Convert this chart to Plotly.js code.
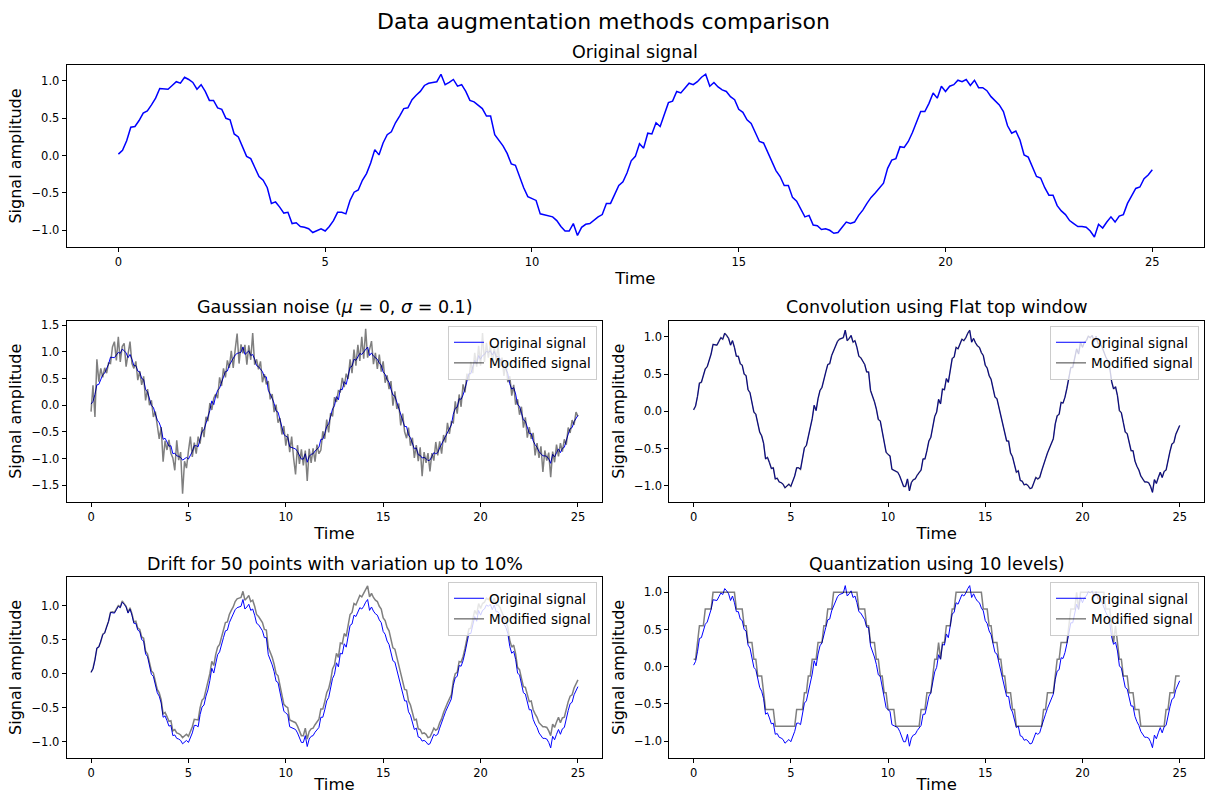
<!DOCTYPE html>
<html>
<head>
<meta charset="utf-8">
<script src="https://cdn.plot.ly/plotly-3.0.1.min.js"></script>
<style>html,body{margin:0;padding:0;background:#fff;}#chart{width:1206px;height:794px;}</style>
</head>
<body>
<div id="chart"></div>
<script>
// Sampling grid of the signal (time axis start and step)
const timeStart = 0;
const timeStep = 0.1;

// Original signal
const original = [
0.02,0.07,0.20,0.38,0.39,0.47,0.57,0.60,0.68,0.77,
0.90,0.90,0.89,0.94,0.99,0.97,1.05,1.02,0.98,0.89,
0.95,0.86,0.74,0.74,0.64,0.62,0.50,0.48,0.29,0.25,
0.12,-0.01,-0.04,-0.16,-0.28,-0.33,-0.43,-0.64,-0.62,-0.69,
-0.77,-0.76,-0.91,-0.90,-0.95,-0.96,-0.98,-1.03,-1.00,-0.98,
-1.01,-0.95,-0.87,-0.76,-0.76,-0.78,-0.60,-0.49,-0.46,-0.33,
-0.24,-0.10,0.08,0.01,0.17,0.28,0.32,0.44,0.53,0.63,
0.64,0.75,0.81,0.86,0.94,0.97,0.98,0.99,1.09,0.95,
0.98,1.02,0.93,0.95,0.86,0.74,0.72,0.68,0.63,0.53,
0.53,0.28,0.21,0.13,0.03,-0.11,-0.13,-0.29,-0.43,-0.55,
-0.58,-0.60,-0.78,-0.79,-0.80,-0.82,-0.87,-0.95,-1.01,-1.01,
-0.91,-1.07,-0.96,-0.92,-0.91,-0.86,-0.82,-0.79,-0.64,-0.64,
-0.53,-0.40,-0.35,-0.23,-0.07,-0.01,0.16,0.10,0.30,0.29,
0.44,0.39,0.55,0.71,0.73,0.86,0.84,0.91,0.97,0.95,
0.99,1.05,1.09,0.93,0.98,0.92,0.88,0.86,0.79,0.75,
0.62,0.58,0.48,0.43,0.30,0.19,0.17,0.05,-0.07,-0.20,
-0.28,-0.40,-0.40,-0.56,-0.61,-0.71,-0.82,-0.80,-0.93,-0.94,
-0.99,-0.98,-1.00,-1.04,-1.03,-0.96,-0.89,-0.91,-0.89,-0.80,
-0.73,-0.64,-0.56,-0.50,-0.44,-0.37,-0.17,-0.06,-0.04,0.12,
0.11,0.19,0.31,0.44,0.59,0.59,0.70,0.84,0.77,0.93,
0.86,0.93,0.95,1.01,0.99,1.02,0.94,1.01,0.91,0.91,
0.87,0.79,0.73,0.68,0.59,0.40,0.30,0.33,0.21,0.01,
-0.02,-0.15,-0.28,-0.30,-0.43,-0.53,-0.53,-0.67,-0.74,-0.79,
-0.87,-0.91,-0.95,-0.95,-0.96,-1.01,-1.09,-0.92,-0.97,-0.89,
-0.82,-0.89,-0.81,-0.79,-0.64,-0.54,-0.44,-0.42,-0.31,-0.26,
-0.19];

// Signal with Gaussian noise
const gaussianNoise = [
-0.12,0.37,-0.22,0.86,0.44,0.69,0.52,0.70,0.60,0.79,
0.78,1.09,1.19,0.84,1.28,0.81,1.10,1.16,0.72,0.92,
1.19,0.78,0.69,0.82,0.47,0.64,0.38,0.54,0.09,0.30,
0.00,0.09,-0.22,-0.12,-0.43,-0.63,-0.41,-1.06,-0.67,-0.84,
-0.65,-0.90,-0.99,-1.22,-0.66,-1.03,-0.88,-1.66,-1.05,-1.18,
-0.86,-0.59,-0.97,-0.70,-0.91,-0.59,-0.72,-0.41,-0.60,-0.22,
-0.30,0.04,-0.09,0.13,0.21,0.13,0.52,0.36,0.69,0.52,
0.84,0.70,1.02,0.70,1.04,1.34,0.78,1.14,0.97,1.13,
0.76,1.12,0.85,1.35,0.76,0.86,0.67,0.82,0.43,0.58,
0.39,0.45,0.11,0.21,-0.13,0.01,-0.33,-0.24,-0.55,-0.39,
-0.76,-0.54,-0.88,-0.59,-0.99,-1.30,-0.75,-1.10,-0.83,-1.13,
-0.85,-1.42,-0.82,-1.08,-0.81,-1.06,-0.74,-0.91,-0.84,-0.49,
-0.63,-0.27,-0.51,-0.15,-0.21,0.15,0.06,0.27,0.25,0.51,
0.34,0.59,0.49,0.86,0.60,1.04,0.74,1.13,0.83,1.28,
0.87,1.43,0.89,1.07,1.20,0.77,0.98,0.68,0.95,0.63,
0.82,0.42,0.56,0.30,0.45,-0.01,0.26,-0.07,0.03,-0.38,
-0.16,-0.50,-0.62,-0.42,-0.76,-0.61,-0.99,-0.75,-1.05,-0.79,
-1.33,-0.88,-1.08,-0.90,-1.24,-0.90,-1.04,-0.69,-0.94,-0.68,
-0.91,-0.56,-0.70,-0.33,-0.54,-0.31,-0.33,0.07,-0.16,0.20,
-0.03,0.39,0.24,0.59,0.47,0.81,0.60,0.98,0.72,1.11,
0.74,1.35,0.81,1.17,0.89,1.14,0.76,1.09,0.85,1.11,
0.72,0.89,0.55,0.80,0.43,0.54,0.18,0.38,0.01,0.11,
-0.18,-0.03,-0.42,-0.23,-0.61,-0.41,-0.63,-0.52,-0.94,-0.71,
-0.99,-0.77,-1.25,-0.85,-1.04,-0.89,-1.35,-0.87,-1.07,-0.74,
-0.96,-0.71,-0.87,-0.64,-0.74,-0.42,-0.52,-0.28,-0.37,-0.13,
-0.21];

// Convolved signal (Flat top window): visually identical to the original
const convolved = original;

// Signal with drift
const drifted = [
0.02,0.08,0.21,0.37,0.40,0.47,0.58,0.60,0.69,0.77,
0.90,0.91,0.90,0.95,1.00,0.98,1.07,1.03,0.99,0.90,
0.97,0.88,0.76,0.77,0.67,0.65,0.54,0.52,0.33,0.29,
0.17,0.04,0.01,-0.11,-0.23,-0.28,-0.38,-0.59,-0.57,-0.63,
-0.70,-0.69,-0.84,-0.82,-0.87,-0.88,-0.90,-0.94,-0.91,-0.89,
-0.92,-0.86,-0.78,-0.67,-0.67,-0.68,-0.50,-0.39,-0.36,-0.23,
-0.14,0.00,0.18,0.12,0.28,0.39,0.43,0.55,0.65,0.75,
0.76,0.87,0.93,0.98,1.06,1.10,1.11,1.12,1.21,1.08,
1.11,1.15,1.06,1.08,0.99,0.87,0.84,0.80,0.75,0.65,
0.64,0.39,0.32,0.24,0.14,0.00,-0.03,-0.19,-0.33,-0.45,
-0.48,-0.50,-0.68,-0.69,-0.70,-0.72,-0.77,-0.85,-0.91,-0.91,
-0.80,-0.96,-0.85,-0.81,-0.80,-0.75,-0.70,-0.67,-0.52,-0.52,
-0.41,-0.28,-0.22,-0.10,0.07,0.13,0.30,0.24,0.45,0.44,
0.59,0.55,0.71,0.87,0.90,1.03,1.01,1.09,1.15,1.13,
1.18,1.24,1.29,1.13,1.18,1.12,1.08,1.06,0.99,0.95,
0.82,0.78,0.68,0.63,0.49,0.38,0.36,0.24,0.12,-0.02,
-0.11,-0.23,-0.24,-0.40,-0.46,-0.57,-0.68,-0.67,-0.81,-0.82,
-0.88,-0.87,-0.89,-0.94,-0.93,-0.87,-0.80,-0.83,-0.81,-0.72,
-0.66,-0.57,-0.49,-0.43,-0.37,-0.31,-0.11,0.00,0.02,0.18,
0.17,0.25,0.37,0.51,0.66,0.67,0.79,0.93,0.87,1.03,
0.96,1.03,1.05,1.11,1.09,1.12,1.04,1.11,1.01,1.01,
0.97,0.89,0.83,0.77,0.68,0.49,0.39,0.42,0.29,0.09,
0.06,-0.07,-0.19,-0.20,-0.32,-0.41,-0.40,-0.53,-0.59,-0.64,
-0.72,-0.75,-0.78,-0.78,-0.79,-0.84,-0.91,-0.74,-0.79,-0.71,
-0.64,-0.72,-0.65,-0.64,-0.50,-0.41,-0.33,-0.31,-0.21,-0.16,
-0.09];

// Quantized signal, 10 levels
const quantized = [
0.1,0.1,0.325,0.55,0.55,0.55,0.775,0.775,0.775,0.775,
1,1,1,1,1,1,1,1,1,1,
1,1,0.775,0.775,0.775,0.775,0.55,0.55,0.325,0.325,
0.325,0.1,0.1,-0.125,-0.125,-0.125,-0.35,-0.575,-0.575,-0.575,
-0.575,-0.575,-0.8,-0.8,-0.8,-0.8,-0.8,-0.8,-0.8,-0.8,
-0.8,-0.8,-0.8,-0.575,-0.575,-0.575,-0.575,-0.35,-0.35,-0.125,
-0.125,0.1,0.1,0.1,0.325,0.325,0.325,0.55,0.55,0.775,
0.775,0.775,1,1,1,1,1,1,1,1,
1,1,1,1,1,0.775,0.775,0.775,0.775,0.55,
0.55,0.325,0.325,0.325,0.1,0.1,-0.125,-0.125,-0.35,-0.35,
-0.575,-0.575,-0.575,-0.575,-0.8,-0.8,-0.8,-0.8,-0.8,-0.8,
-0.8,-0.8,-0.8,-0.8,-0.8,-0.8,-0.8,-0.575,-0.575,-0.575,
-0.35,-0.35,-0.35,-0.125,0.1,0.1,0.325,0.1,0.325,0.325,
0.55,0.55,0.55,0.775,0.775,1,1,1,1,1,
1,1,1,1,1,1,1,1,1,0.775,
0.775,0.775,0.55,0.55,0.325,0.325,0.325,0.1,0.1,-0.125,
-0.125,-0.35,-0.35,-0.35,-0.575,-0.575,-0.8,-0.8,-0.8,-0.8,
-0.8,-0.8,-0.8,-0.8,-0.8,-0.8,-0.8,-0.8,-0.8,-0.8,
-0.575,-0.575,-0.35,-0.35,-0.35,-0.35,-0.125,0.1,0.1,0.325,
0.325,0.325,0.325,0.55,0.775,0.775,0.775,1,0.775,1,
1,1,1,1,1,1,1,1,1,1,
1,1,0.775,0.775,0.775,0.55,0.325,0.55,0.325,0.1,
0.1,-0.125,-0.125,-0.125,-0.35,-0.35,-0.35,-0.575,-0.575,-0.575,
-0.8,-0.8,-0.8,-0.8,-0.8,-0.8,-0.8,-0.8,-0.8,-0.8,
-0.8,-0.8,-0.8,-0.575,-0.575,-0.35,-0.35,-0.35,-0.125,-0.125,
-0.125];

// Tick labels
const xTickVals = [0, 5, 10, 15, 20, 25];
const xTickText = ['0', '5', '10', '15', '20', '25'];
const yTickVals = [-1, -0.5, 0, 0.5, 1];
const yTickText = ['\u22121.0', '\u22120.5', '0.0', '0.5', '1.0'];
const yTickValsWide = [-1.5, -1, -0.5, 0, 0.5, 1, 1.5];
const yTickTextWide = ['\u22121.5', '\u22121.0', '\u22120.5', '0.0', '0.5', '1.0', '1.5'];

// Text
const mainTitle = 'Data augmentation methods comparison';
const panelTitles = [
  'Original signal',
  'Gaussian noise (<i>μ</i> = 0, <i>σ</i> = 0.1)',
  'Convolution using Flat top window',
  'Drift for 50 points with variation up to 10%',
  'Quantization using 10 levels)'
];
const seriesNames = ['Original signal', 'Modified signal'];
const xTitle = 'Time';
const yTitle = 'Signal amplitude';

const FONT = 'DejaVu Sans, Verdana, sans-serif';
const BLUE = '#0000ff';
const GREY = 'rgba(0,0,0,0.5)';
const W = 1206, H = 794;

function px(x) { return x / W; }
function py(y) { return 1 - y / H; }

function xAxis(domain, anchor) {
  return {
    domain: domain, anchor: anchor, range: [-1.25, 26.25],
    tickmode: 'array', tickvals: xTickVals, ticktext: xTickText,
    ticks: 'outside', ticklen: 4, tickwidth: 1, tickcolor: '#000',
    showline: true, mirror: true, linecolor: '#000', linewidth: 1,
    showgrid: false, zeroline: false,
    tickfont: {family: FONT, size: 11.5, color: '#000'},
    title: {text: xTitle, font: {family: FONT, size: 16.5, color: '#000'}, standoff: 4}
  };
}
function yAxis(domain, anchor, range, vals, text) {
  return {
    domain: domain, anchor: anchor, range: range,
    tickmode: 'array', tickvals: vals, ticktext: text,
    ticks: 'outside', ticklen: 4, tickwidth: 1, tickcolor: '#000',
    showline: true, mirror: true, linecolor: '#000', linewidth: 1,
    showgrid: false, zeroline: false,
    tickfont: {family: FONT, size: 11.5, color: '#000'},
    title: {text: yTitle, font: {family: FONT, size: 16, color: '#000'}, standoff: 5}
  };
}

const xLeft = [px(66.7), px(602.3)];
const xRight = [px(669.3), px(1204)];
const xFull = [px(66.7), px(1204)];
const yTop = [py(246.7), py(65.3)];
const yMid = [py(502), py(320.6)];
const yBot = [py(758.1), py(576.7)];

function origTrace(xa, ya, legend, width, showleg) {
  return {type: 'scatter', mode: 'lines', y: original, x0: timeStart, dx: timeStep,
    xaxis: xa, yaxis: ya, name: seriesNames[0], legend: legend, showlegend: showleg,
    line: {color: BLUE, width: width}};
}
function modTrace(data, xa, ya, legend) {
  return {type: 'scatter', mode: 'lines', y: data, x0: timeStart, dx: timeStep,
    xaxis: xa, yaxis: ya, name: seriesNames[1], legend: legend, showlegend: true,
    line: {color: GREY, width: 1.5}};
}

const traces = [
  origTrace('x', 'y', 'legend', 1.5, false),
  origTrace('x2', 'y2', 'legend', 1, true),
  modTrace(gaussianNoise, 'x2', 'y2', 'legend'),
  origTrace('x3', 'y3', 'legend2', 1, true),
  modTrace(convolved, 'x3', 'y3', 'legend2'),
  origTrace('x4', 'y4', 'legend3', 1, true),
  modTrace(drifted, 'x4', 'y4', 'legend3'),
  origTrace('x5', 'y5', 'legend4', 1, true),
  modTrace(quantized, 'x5', 'y5', 'legend4')
];

function legendAt(xr, ytop) {
  return {x: px(xr), y: py(ytop), xanchor: 'right', yanchor: 'top',
    bgcolor: 'rgba(255,255,255,0.8)', bordercolor: '#cccccc', borderwidth: 1,
    font: {family: FONT, size: 13.5, color: '#000'}, tracegroupgap: 0, itemwidth: 30};
}

function titleAnn(text, xc, yc, size) {
  return {text: text, x: xc, y: yc, xref: 'paper', yref: 'paper',
    xanchor: 'center', yanchor: 'middle', showarrow: false,
    font: {family: FONT, size: size, color: '#000'}};
}

const layout = {
  width: W, height: H,
  margin: {l: 0, r: 0, t: 0, b: 0},
  paper_bgcolor: '#fff', plot_bgcolor: '#fff',
  font: {family: FONT, color: '#000'},
  xaxis: xAxis(xFull, 'y'),
  yaxis: yAxis(yTop, 'x', [-1.22, 1.21], yTickVals, yTickText),
  xaxis2: xAxis(xLeft, 'y2'),
  yaxis2: yAxis(yMid, 'x2', [-1.815, 1.585], yTickValsWide, yTickTextWide),
  xaxis3: xAxis(xRight, 'y3'),
  yaxis3: yAxis(yMid, 'x3', [-1.22, 1.22], yTickVals, yTickText),
  xaxis4: xAxis(xLeft, 'y4'),
  yaxis4: yAxis(yBot, 'x4', [-1.24, 1.425], yTickVals, yTickText),
  xaxis5: xAxis(xRight, 'y5'),
  yaxis5: yAxis(yBot, 'x5', [-1.23, 1.21], yTickVals, yTickText),
  legend: legendAt(597, 326),
  legend2: legendAt(1199, 326),
  legend3: legendAt(597, 582),
  legend4: legendAt(1199, 582),
  annotations: [
    titleAnn(mainTitle, 0.5, py(21), 22),
    titleAnn(panelTitles[0], (xFull[0] + xFull[1]) / 2, py(52), 17.5),
    titleAnn(panelTitles[1], (xLeft[0] + xLeft[1]) / 2, py(307), 17.5),
    titleAnn(panelTitles[2], (xRight[0] + xRight[1]) / 2, py(307), 17.5),
    titleAnn(panelTitles[3], (xLeft[0] + xLeft[1]) / 2, py(564), 17.5),
    titleAnn(panelTitles[4], (xRight[0] + xRight[1]) / 2, py(564), 17.5)
  ]
};

Plotly.newPlot('chart', traces, layout, {displayModeBar: false, staticPlot: true});
</script>
</body>
</html>
